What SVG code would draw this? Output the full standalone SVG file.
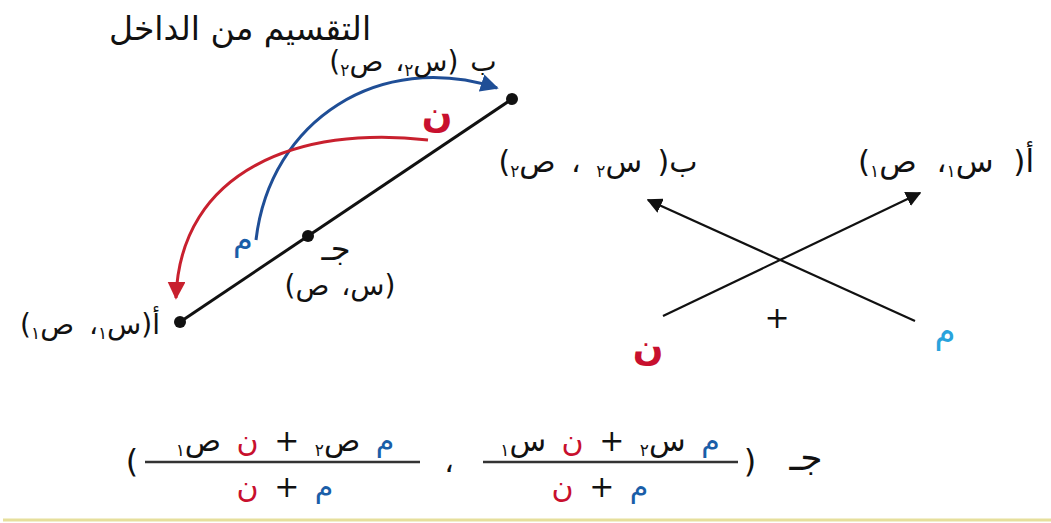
<svg xmlns="http://www.w3.org/2000/svg" width="1051" height="523" viewBox="0 0 1051 523">
<style>
text{font-family:"DejaVu Sans",sans-serif;fill:#111;direction:rtl;text-anchor:middle;}
.lbl{font-size:28px;word-spacing:3px;}
.sub{font-size:17px;}
.red{fill:#c8102e;}
.blue{fill:#1a5ea8;}
.cyan{fill:#29a3dc;}
.f{font-size:30px;word-spacing:6px;}
</style>
<defs>
<marker id="ab" viewBox="0 0 10 10" refX="9" refY="5" markerWidth="6" markerHeight="6" orient="auto" markerUnits="strokeWidth"><path d="M0,0 L10,5 L0,10 z" fill="#1f4e96"/></marker>
<marker id="ar" viewBox="0 0 10 10" refX="9" refY="5" markerWidth="6" markerHeight="6" orient="auto" markerUnits="strokeWidth"><path d="M0,0 L10,5 L0,10 z" fill="#c8202e"/></marker>
<marker id="ak" viewBox="0 0 10 10" refX="9" refY="5" markerWidth="7" markerHeight="7" orient="auto" markerUnits="strokeWidth"><path d="M0,0 L10,5 L0,10 z" fill="#111"/></marker>
</defs>
<rect width="1051" height="523" fill="#fff"/>
<text x="240" y="40" style="font-size:33px">التقسيم من الداخل</text>
<g id="connectors" fill="none">
<line x1="180" y1="322" x2="512" y2="99" stroke="#111" stroke-width="3"/>
<path d="M256,240 C270,120 380,50 497,88" stroke="#1f4e96" stroke-width="3" marker-end="url(#ab)"/>
<path d="M428,140 C300,125 180,170 176,298" stroke="#c8202e" stroke-width="3" marker-end="url(#ar)"/>
<line x1="663" y1="316" x2="920" y2="193" stroke="#111" stroke-width="2.2" marker-end="url(#ak)"/>
<line x1="915" y1="321" x2="648" y2="200" stroke="#111" stroke-width="2.2" marker-end="url(#ak)"/>
</g>
<g id="nodeB"><circle cx="512" cy="99" r="6" fill="#111"/>
<text class="lbl" x="413" y="71">ب (س<tspan class="sub" baseline-shift="-5">٢</tspan>، ص<tspan class="sub" baseline-shift="-5">٢</tspan>)</text></g>
<g id="nodeC"><circle cx="308" cy="236" r="6" fill="#111"/>
<text x="336" y="260" style="font-size:32px">جـ</text>
<text class="lbl" x="340" y="295">(س، ص)</text></g>
<g id="nodeA"><circle cx="180" cy="322" r="6" fill="#111"/>
<text class="lbl" x="90" y="334" style="word-spacing:6px">أ(س<tspan class="sub" baseline-shift="-5">١</tspan>، ص<tspan class="sub" baseline-shift="-5">١</tspan>)</text></g>
<g id="labelN"><text class="red" x="437" y="127" style="font-size:36px;font-weight:bold">ن</text></g>
<g id="labelM"><text class="blue" x="243" y="250" style="font-size:32px">م</text></g>
<g id="rightB"><text class="lbl" x="598" y="172" style="font-size:30px;word-spacing:6px">ب( س<tspan class="sub" baseline-shift="-5">٢</tspan> ، ص<tspan class="sub" baseline-shift="-5">٢</tspan>)</text></g>
<g id="rightA"><text class="lbl" x="946" y="172" style="font-size:31px;word-spacing:10px">أ( س<tspan class="sub" baseline-shift="-5">١</tspan>، ص<tspan class="sub" baseline-shift="-5">١</tspan>)</text></g>
<g id="plus"><text x="777" y="328" style="font-size:30px">+</text></g>
<g id="rightN"><text class="red" x="648" y="360" style="font-size:36px;font-weight:bold">ن</text></g>
<g id="rightM"><text class="cyan" x="945" y="343" style="font-size:34px">م</text></g>
<g id="formula">
<text x="806" y="470" style="font-size:36px">جـ</text>
<text x="750" y="472" style="font-size:32px">(</text>
<line x1="483" y1="462" x2="738" y2="462" stroke="#333" stroke-width="2.5"/>
<text class="f" x="610" y="451"><tspan class="blue">م</tspan> س<tspan class="sub" baseline-shift="-5">٢</tspan> + <tspan class="red">ن</tspan> س<tspan class="sub" baseline-shift="-5">١</tspan></text>
<text class="f" x="600" y="497"><tspan class="blue">م</tspan> + <tspan class="red">ن</tspan></text>
<text class="f" x="449" y="472">،</text>
<line x1="145" y1="462" x2="420" y2="462" stroke="#333" stroke-width="2.5"/>
<text class="f" x="285" y="451"><tspan class="blue">م</tspan> ص<tspan class="sub" baseline-shift="-5">٢</tspan> + <tspan class="red">ن</tspan> ص<tspan class="sub" baseline-shift="-5">١</tspan></text>
<text class="f" x="285" y="497"><tspan class="blue">م</tspan> + <tspan class="red">ن</tspan></text>
<text x="132" y="472" style="font-size:32px">)</text>
</g>
<line x1="3" y1="520" x2="1051" y2="520" stroke="#e6df9c" stroke-width="3"/>
</svg>
